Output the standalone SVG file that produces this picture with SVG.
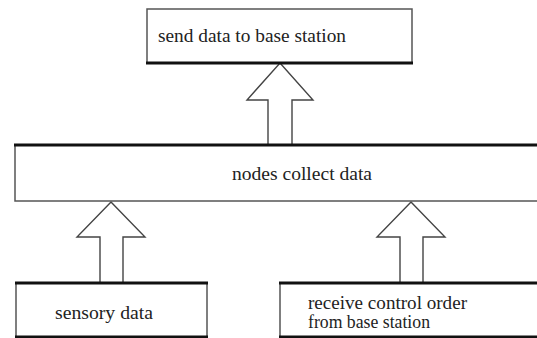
<svg xmlns="http://www.w3.org/2000/svg" width="537" height="338" viewBox="0 0 537 338">
<style>
.box{fill:#fff;stroke:#555;stroke-width:1.5}
.edge{stroke:#111;stroke-width:3}
.arr{fill:#fff;stroke:#444;stroke-width:1.4;stroke-linejoin:miter}
.t{font-family:'Liberation Serif','Times New Roman',serif;font-size:18px;fill:#222}
</style>
<rect width="537" height="338" fill="#fff"/>
<g id="connectors">
<polygon class="arr" points="280,63 313,100 292,100 292,145 268,145 268,100 247,100"/>
<polygon class="arr" points="111,202 145,237 123,237 123,283 100,283 100,237 77,237"/>
<polygon class="arr" points="411,202 445,237 423,237 423,283 400,283 400,237 377,237"/>
</g>
<g id="send">
<rect class="box" x="147" y="9" width="265" height="54"/>
<line class="edge" x1="146" y1="63" x2="413" y2="63"/>
<text class="t" x="158" y="42" textLength="188" lengthAdjust="spacingAndGlyphs">send data to base station</text>
</g>
<g id="collect">
<rect class="box" x="15" y="145" width="540" height="56"/>
<line class="edge" x1="14" y1="145" x2="537" y2="145"/>
<text class="t" x="232" y="180" textLength="140" lengthAdjust="spacingAndGlyphs">nodes collect data</text>
</g>
<g id="sensory">
<rect class="box" x="16" y="283" width="191" height="54"/>
<line class="edge" x1="15" y1="283" x2="208" y2="283"/>
<line class="edge" x1="15" y1="337" x2="208" y2="337"/>
<text class="t" x="55" y="319" textLength="98" lengthAdjust="spacingAndGlyphs">sensory data</text>
</g>
<g id="receive">
<rect class="box" x="280" y="283" width="270" height="54"/>
<line class="edge" x1="279" y1="283" x2="537" y2="283"/>
<line class="edge" x1="279" y1="337" x2="537" y2="337"/>
<text class="t" x="308" y="309" font-size="16" textLength="159" lengthAdjust="spacingAndGlyphs">receive control order</text>
<text class="t" x="308" y="328" font-size="16" textLength="122" lengthAdjust="spacingAndGlyphs">from base station</text>
</g>
</svg>
